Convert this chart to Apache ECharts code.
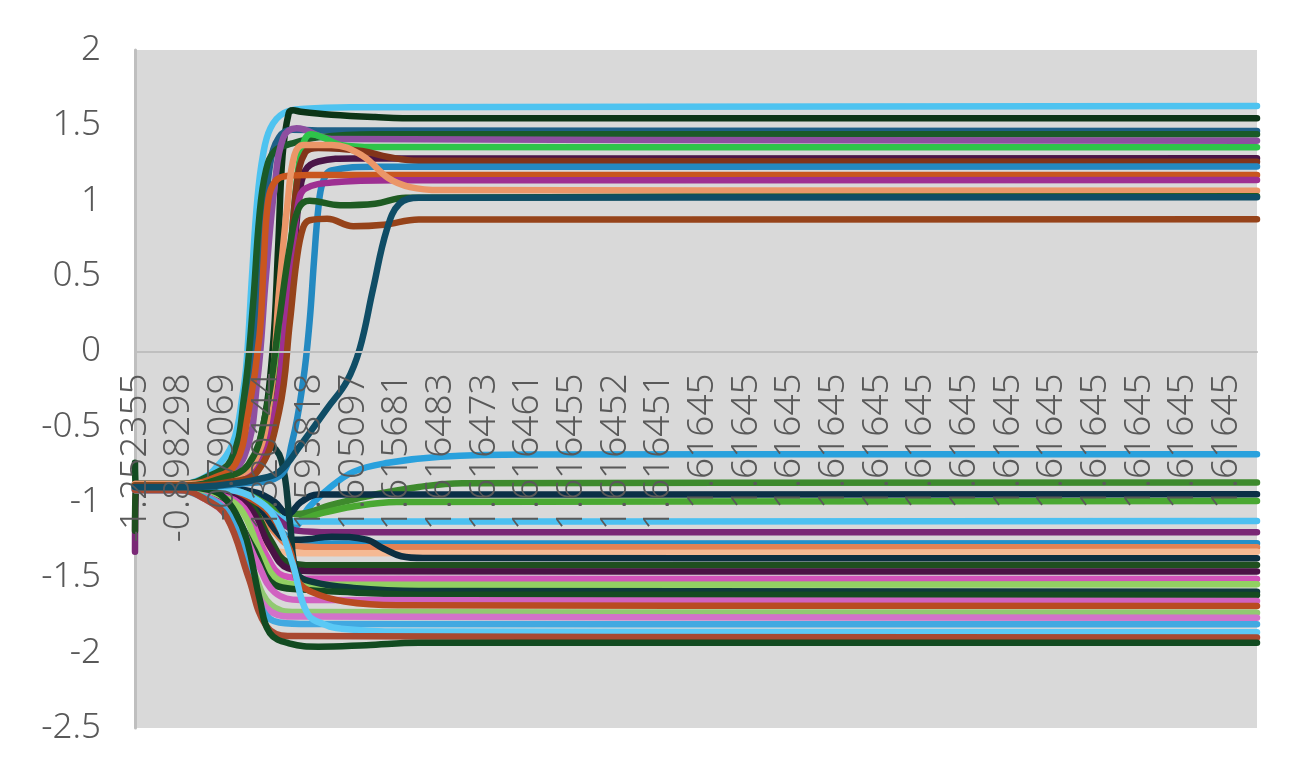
<!DOCTYPE html>
<html>
<head>
<meta charset="utf-8">
<script src="https://cdn.jsdelivr.net/npm/echarts@6/dist/echarts.min.js"></script>
<style>html,body{margin:0;padding:0;background:#fff}#c{width:1306px;height:779px}</style>
</head>
<body>
<div id="c"></div>
<script>
// Category labels (shown every 10th point index)
const xLabels = ["-1.252355","-0.898298","-0.79069","1.320144","1.593818","1.605097","1.615681","1.616483","1.616473","1.616461","1.616455","1.616452","1.616451","1.61645","1.61645","1.61645","1.61645","1.61645","1.61645","1.61645","1.61645","1.61645","1.61645","1.61645","1.61645","1.61645"];
const yTicks = [-2.5,-2,-1.5,-1,-0.5,0,0.5,1,1.5,2];

// Series values as [pointIndex, value]
const s01 = [[0,-0.88],[11,-0.88],[15,-0.85],[18,-0.79],[22.4,-0.61],[24.7,-0.28],[25.6,-0.06],[26.8,0.5],[28,1.0],[29.3,1.3],[31,1.48],[34,1.58],[39,1.61],[50,1.62],[257,1.628]];
const s02 = [[0,-0.88],[12,-0.88],[20,-0.85],[26,-0.78],[29,-0.55],[31.5,0],[32.8,0.7],[33.8,1.3],[35.2,1.58],[36.2,1.6],[38,1.59],[45,1.57],[55,1.555],[65,1.547],[257,1.547]];
const s03 = [[0,-0.88],[11,-0.88],[17,-0.84],[23,-0.72],[26,-0.35],[28,0.2],[29.5,0.8],[31,1.25],[33,1.42],[36,1.47],[45,1.465],[257,1.462]];
const s04 = [[0,-0.88],[11,-0.88],[16,-0.84],[22,-0.72],[25,-0.3],[27,0.3],[28.5,0.9],[30,1.2],[32,1.33],[36,1.38],[42,1.42],[55,1.44],[257,1.44]];
const s05 = [[0,-0.89],[12,-0.89],[19,-0.85],[25,-0.7],[28,-0.2],[30,0.5],[32,1.1],[34,1.42],[37,1.48],[45,1.41],[257,1.398]];
const s06 = [[0,-0.89],[13,-0.89],[21,-0.86],[28,-0.75],[32,-0.3],[34.5,0.3],[36.3,0.9],[37.6,1.25],[38.8,1.4],[40.3,1.44],[43,1.42],[47,1.37],[55,1.356],[257,1.354]];
const s07 = [[0,-0.89],[13,-0.89],[21,-0.86],[29,-0.75],[33,-0.3],[35.8,0.4],[37.5,1.0],[39,1.2],[42,1.26],[50,1.28],[257,1.281]];
const s08 = [[0,-0.89],[13,-0.89],[21,-0.85],[29,-0.7],[33,-0.2],[35.3,0.5],[37,1.1],[39,1.32],[42,1.35],[52,1.33],[58,1.29],[65,1.265],[257,1.259]];
const s09 = [[0,-0.9],[14,-0.9],[24,-0.88],[33,-0.83],[36,-0.6],[38.5,-0.2],[40,0.2],[41,0.6],[42,0.95],[43,1.12],[45,1.2],[55,1.225],[257,1.226]];
const s10 = [[0,-0.88],[12,-0.88],[18,-0.84],[23,-0.75],[26,-0.4],[28.5,0.1],[29.5,0.6],[30.3,0.95],[31.5,1.1],[34,1.16],[40,1.17],[257,1.17]];
const s11 = [[0,-0.89],[13,-0.89],[21,-0.86],[28,-0.76],[32,-0.4],[34.5,0.2],[36.3,0.7],[37.5,1.0],[39,1.08],[45,1.12],[60,1.135],[257,1.137]];
const s12 = [[0,-0.88],[12,-0.88],[20,-0.85],[27,-0.75],[31,-0.3],[33,0.4],[35,1.0],[36.5,1.3],[38.5,1.37],[45,1.37],[52,1.3],[58,1.15],[63,1.09],[70,1.07],[257,1.066]];
const s13 = [[0,-0.9],[14,-0.9],[22,-0.88],[28,-0.85],[33,-0.8],[38,-0.62],[44,-0.38],[48.5,-0.2],[51.5,0.02],[54.5,0.41],[57.7,0.81],[60.6,0.98],[65,1.02],[257,1.022]];
const s14 = [[0,-0.89],[12,-0.89],[19,-0.85],[26,-0.75],[30,-0.4],[33,0.2],[35.5,0.7],[37.5,0.95],[40,1.0],[47,0.97],[55,0.98],[62,1.02],[257,1.03]];
const s15 = [[0,-0.89],[13,-0.89],[21,-0.87],[28,-0.8],[33,-0.4],[35.5,0.2],[37,0.6],[38.5,0.82],[40,0.87],[44,0.88],[50,0.83],[57,0.84],[65,0.875],[257,0.876]];
const s16 = [[0,-0.9],[14,-0.9],[22,-0.93],[26,-0.97],[31,-1.08],[36,-1.17],[40,-1.03],[44,-0.92],[50,-0.8],[58,-0.74],[70,-0.7],[90,-0.685],[257,-0.683]];
const s17 = [[0,-0.9],[14,-0.9],[22,-0.93],[28,-0.97],[33,-1.05],[37,-1.08],[45,-1.02],[55,-0.95],[65,-0.9],[75,-0.875],[257,-0.87]];
const s18 = [[0,-0.9],[14,-0.9],[22,-0.91],[28,-0.94],[32,-1.0],[35,-1.08],[38,-1.0],[42,-0.95],[257,-0.949]];
const s19 = [[0,-0.9],[14,-0.9],[22,-0.92],[28,-0.98],[33,-1.1],[36,-1.13],[42,-1.08],[50,-1.03],[60,-1.0],[257,-0.993]];
const s20 = [[0,-0.91],[14,-0.91],[22,-0.93],[28,-0.99],[33,-1.1],[37,-1.13],[257,-1.126]];
const s21 = [[0,-1.33],[0.3,-0.92],[14,-0.92],[22,-0.94],[28,-1.0],[33,-1.12],[37,-1.19],[45,-1.2],[257,-1.201]];
const s22 = [[0,-0.91],[13,-0.91],[21,-0.94],[28,-1.02],[33,-1.18],[37,-1.26],[45,-1.275],[257,-1.274]];
const s23 = [[0,-0.91],[13,-0.91],[20,-0.94],[27,-1.02],[32,-1.2],[36,-1.29],[45,-1.3],[257,-1.3]];
const s24 = [[0,-0.91],[12,-0.91],[18,-0.95],[24,-1.03],[29,-1.25],[33,-1.33],[41,-1.34],[257,-1.33]];
const s25 = [[0,-0.9],[14,-0.9],[22,-0.93],[28,-1.02],[32,-1.18],[35,-1.25],[38,-1.25],[45,-1.23],[53,-1.25],[57,-1.31],[61,-1.36],[66,-1.372],[257,-1.374]];
const s26 = [[0,-1.19],[0.3,-0.9],[13,-0.9],[20,-0.93],[26,-1.0],[31,-1.25],[35,-1.4],[41,-1.42],[257,-1.418]];
const s27 = [[0,-0.91],[13,-0.91],[20,-0.94],[26,-1.03],[31,-1.3],[35,-1.44],[41,-1.46],[257,-1.462]];
const s28 = [[0,-0.91],[12,-0.91],[19,-0.95],[25,-1.04],[30,-1.35],[34,-1.49],[41,-1.51],[257,-1.511]];
const s29 = [[0,-0.91],[12,-0.91],[18,-0.95],[24,-1.04],[29,-1.35],[33,-1.52],[39,-1.55],[257,-1.546]];
const s30 = [[0,-0.9],[14,-0.9],[22,-0.86],[27,-0.78],[30.5,-0.62],[33.5,-0.72],[35.5,-1.14],[37.1,-1.47],[40.7,-1.53],[50,-1.57],[65,-1.59],[257,-1.595]];
const s31 = [[0,-0.92],[11,-0.92],[16,-0.96],[22,-1.06],[27,-1.3],[32,-1.55],[38,-1.58],[50,-1.6],[65,-1.615],[257,-1.617]];
const s32 = [[0,-0.92],[11,-0.92],[17,-0.97],[23,-1.1],[28,-1.4],[32,-1.6],[38,-1.65],[257,-1.657]];
const s33 = [[0,-0.9],[14,-0.9],[21,-0.91],[26,-0.97],[31,-1.08],[35.5,-1.32],[37.2,-1.52],[40.7,-1.6],[48,-1.66],[60,-1.685],[257,-1.69]];
const s34 = [[0,-0.92],[11,-0.92],[17,-0.98],[22,-1.1],[27,-1.45],[31,-1.68],[37,-1.73],[257,-1.735]];
const s35 = [[0,-0.92],[10,-0.92],[16,-0.98],[21,-1.1],[26,-1.45],[30,-1.7],[36,-1.76],[257,-1.768]];
const s36 = [[0,-0.92],[10,-0.92],[15,-0.96],[18.5,-1.0],[22.4,-1.12],[27,-1.47],[29.3,-1.72],[33,-1.8],[40,-1.81],[257,-1.812]];
const s37 = [[0,-0.9],[14,-0.9],[22,-0.92],[27,-0.97],[32,-1.1],[36,-1.4],[39.5,-1.74],[44,-1.82],[47,-1.84],[60,-1.86],[257,-1.865]];
const s38 = [[0,-0.92],[10,-0.92],[16,-0.98],[21,-1.1],[26,-1.5],[30,-1.82],[35,-1.89],[257,-1.9]];
const s39 = [[0,-0.74],[0.3,-0.9],[12,-0.9],[17,-0.92],[20,-0.96],[23,-1.07],[25.6,-1.25],[28.6,-1.65],[30.9,-1.87],[35.5,-1.94],[42,-1.96],[53,-1.95],[65,-1.935],[257,-1.934]];

const seriesData = [s16,s17,s18,s19,s20,s21,s22,s23,s24,s25,s26,s27,s28,s29,s30,s31,s32,s33,s34,s35,s36,s37,s38,s39,
                    s01,s02,s03,s04,s05,s06,s07,s08,s09,s10,s11,s12,s14,s15,s13];
const seriesColors = ['#29a1dd','#3e8a2d','#0b2f46','#4aa832','#4cc0f1','#7a2876','#2590c9','#e38254','#f5b993','#0c2f41','#1f4f1f','#4a1245','#d152b9','#92d062','#0e3b3b','#154b21','#d062c1','#b94b21','#91c972','#d272c9','#42a9e1','#5bc9f5','#a94931','#124b21',
                      '#4ec3f0','#0c3417','#1f6088','#1a5a28','#8e4fa0','#2ec44a','#4b1548','#82341a','#2389c1','#c9561f','#9e2f92','#eb9668','#1e5b22','#96431a','#0f4d66'];

const labelStep = 10;
const gridTop = 50, gridBottom = 51, chartH = 779;
const yMin = -2.5, yMax = 2;
const plotH = chartH - gridTop - gridBottom;
const zeroOffset = -(plotH * (0 - yMin) / (yMax - yMin));

const chart = echarts.init(document.getElementById('c'), null, {renderer:'canvas'});
const font = '"Noto Sans", sans-serif';
chart.setOption({
  animation: false,
  backgroundColor: '#ffffff',
  grid: {left:135, right:49, top:gridTop, bottom:gridBottom, containLabel:false, outerBoundsMode:'none',
         show:true, backgroundColor:'#d9d9d9', borderWidth:0},
  xAxis: {
    type:'value', min:0, max:257, z:10,
    offset: zeroOffset,
    axisLine:{show:true, onZero:false, lineStyle:{color:'#bfbfbf', width:2}},
    axisTick:{show:false},
    splitLine:{show:false},
    axisLabel:{
      customValues: xLabels.map((_, i) => i * labelStep),
      formatter: v => xLabels[Math.round(v / labelStep)] || '',
      rotate:90, margin:22, fontSize:37, fontWeight:300, color:'#595959', fontFamily:font,
      showMinLabel:true, showMaxLabel:true, hideOverlap:false
    }
  },
  yAxis: {
    type:'value', min:yMin, max:yMax, interval:0.5,
    axisLine:{show:true, onZero:false, lineStyle:{color:'#bfbfbf', width:3}},
    axisTick:{show:false},
    splitLine:{show:false},
    axisLabel:{
      customValues: yTicks,
      margin:34, fontSize:35, fontWeight:300, color:'#595959', fontFamily:font
    }
  },
  series: seriesData.map((d, i) => ({
    type:'line', data:d, showSymbol:false, symbol:'none', smooth:0.4,
    clip:false, z:2,
    lineStyle:{color:seriesColors[i], width:6.5, cap:'round', join:'round'},
    itemStyle:{color:seriesColors[i]}
  }))
});
</script>
</body>
</html>
